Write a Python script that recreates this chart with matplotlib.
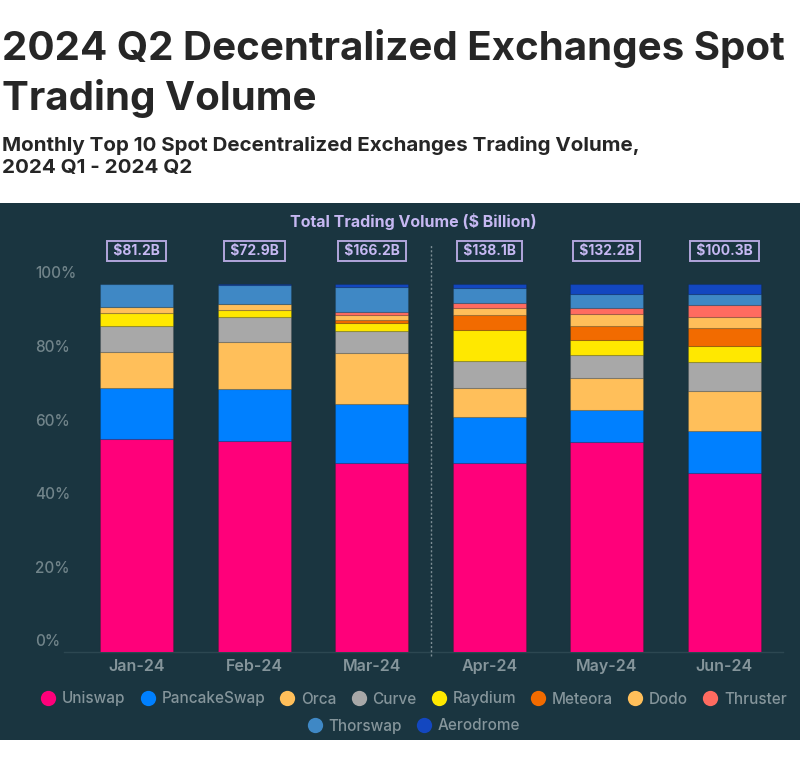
import matplotlib
matplotlib.use('Agg')
import matplotlib.pyplot as plt
from matplotlib.patches import Rectangle
from matplotlib.lines import Line2D
from matplotlib import transforms
import numpy as np

# ---- data (share of top 10 volume, %)
months = ['Jan-24', 'Feb-24', 'Mar-24', 'Apr-24', 'May-24', 'Jun-24']
totals = ['$81.2B', '$72.9B', '$166.2B', '$138.1B', '$132.2B', '$100.3B']

dex_names = ['Uniswap', 'PancakeSwap', 'Orca', 'Curve', 'Raydium',
             'Meteora', 'Dodo', 'Thruster', 'Thorswap', 'Aerodrome']

uniswap = [57.8, 57.3, 51.4, 51.4, 57.1, 48.6]
pancakeswap = [14.0, 14.2, 16.0, 12.4, 8.7, 11.5]
orca = [9.8, 12.7, 13.9, 8.0, 8.7, 10.9]
curve = [7.1, 6.9, 6.0, 7.4, 6.1, 7.7]
raydium = [3.3, 1.8, 2.0, 8.3, 4.2, 4.5]
meteora = [0.0, 0.0, 0.9, 4.2, 3.9, 4.8]
dodo = [1.8, 1.8, 1.4, 1.7, 3.1, 3.0]
thruster = [0.0, 0.0, 0.7, 1.4, 1.6, 3.2]
thorswap = [6.2, 5.0, 6.8, 4.0, 3.8, 3.0]
aerodrome = [0.0, 0.3, 0.9, 1.2, 2.8, 2.8]

series = [uniswap, pancakeswap, orca, curve, raydium,
          meteora, dodo, thruster, thorswap, aerodrome]
colors = ['#ff007a', '#0080ff', '#ffbf5a', '#a8a8a8', '#ffe800',
          '#f26b00', '#ffbf5a', '#ff6b60', '#3f88c5', '#1347c0']

yticks = [0, 20, 40, 60, 80, 100]

BG = '#1a3540'
TXT = '#85959b'
LAV = '#c6b8f2'

plt.rcParams['font.family'] = ['Inter', 'DejaVu Sans']

fig = plt.figure(figsize=(8, 7.74), dpi=100)
fig.patch.set_facecolor('white')

# ---- panel oscuro
fig.patches.append(Rectangle((0, 34 / 774), 1, (740 - 203) / 774,
                             transform=fig.transFigure, facecolor=BG,
                             edgecolor='none', zorder=-10))

# ---- titulos
fig.text(0.002, 1 - 29 / 774, '2024 Q2 Decentralized Exchanges Spot\nTrading Volume',
         fontsize=29, fontweight='bold', color='#262626', va='top', ha='left',
         linespacing=1.36)
fig.text(0.002, 1 - 136 / 774,
         'Monthly Top 10 Spot Decentralized Exchanges Trading Volume,\n2024 Q1 - 2024 Q2',
         fontsize=14.8, fontweight='bold', color='#262626', va='top', ha='left',
         linespacing=1.3)

ax = fig.add_axes([78 / 800, (774 - 652) / 774, (783 - 78) / 800, (652 - 284) / 774])
ax.patch.set_alpha(0)

x = np.arange(len(months))
bottom = np.zeros(len(months))
for name, vals, col in zip(dex_names, series, colors):
    ax.bar(x, vals, bottom=bottom, width=0.62, color=col, label=name,
           edgecolor=(0, 0, 0, 0.12), linewidth=0.8, zorder=3)
    bottom += np.array(vals)

ax.set_xlim(-0.5, 5.5)
ax.set_ylim(0, 100)
for s in ax.spines.values():
    s.set_visible(False)

# ---- eje x
ax.set_xticks(x)
ax.set_xticklabels(months, fontsize=11.5, color=TXT, fontweight='semibold')
ax.tick_params(axis='x', length=0, pad=5)
ax.set_yticks([])
ax.axhline(0, xmin=-0.02, xmax=1, color='#2c4751', linewidth=1, zorder=2,
           clip_on=False)

# ---- etiquetas y (encima de la linea)
trans = transforms.offset_copy(ax.get_yaxis_transform(), fig=fig, y=7.3,
                               units='points')
for t in yticks:
    ax.text(-0.061, t, '%d%%' % t, transform=trans, ha='left', va='center',
            fontsize=11, color='#71848a', fontweight='medium')

# ---- linea divisoria Q1 / Q2
ax.plot([2.5, 2.5], [-1, 110.5], color='#7d8e95', linewidth=1,
        linestyle=(0, (1.5, 1.5)), clip_on=False, zorder=2)

# ---- totales
ax.text(0.475, 1 + (284 - 221) / 368, 'Total Trading Volume ($ Billion)',
        transform=ax.transAxes, ha='center', va='center', fontsize=11.5,
        fontweight='bold', color=LAV)
for xi, lab in zip(x, totals):
    ax.text(xi, 109.0, ' %s ' % lab, ha='center', va='center', fontsize=10,
            fontweight='bold', color=LAV, clip_on=False,
            bbox=dict(boxstyle='square,pad=0.2', facecolor=BG,
                      edgecolor='#b2a6dc', linewidth=1.4))

# ---- leyenda en dos filas
handles = [Line2D([], [], marker='o', linestyle='none', markersize=11,
                  markerfacecolor=c, markeredgecolor='none') for c in colors]
leg_kw = dict(loc='center', frameon=False,
              prop={'size': 11, 'weight': 'medium'},
              labelcolor=TXT, handletextpad=0.3, columnspacing=0.85,
              handlelength=1.2)
leg1 = fig.legend(handles[:8], dex_names[:8], ncol=8,
                  bbox_to_anchor=(413 / 800, 1 - 699 / 774), **leg_kw)
leg2 = fig.legend(handles[8:], dex_names[8:], ncol=2,
                  bbox_to_anchor=(413 / 800, 1 - 726 / 774), **leg_kw)

fig.savefig('out.png', dpi=100, facecolor='white')
